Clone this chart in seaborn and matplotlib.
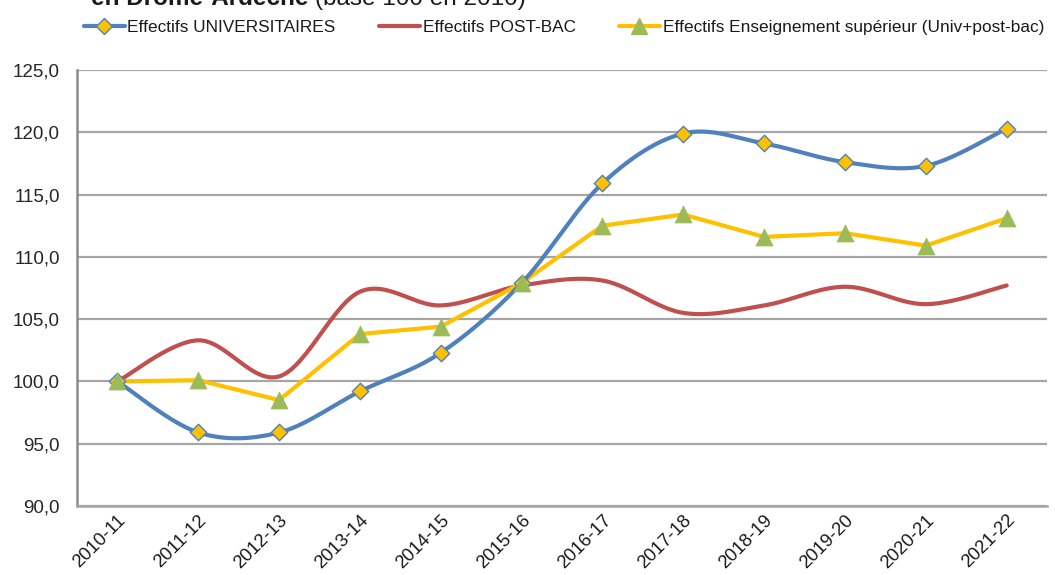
import numpy as np
import pandas as pd
import seaborn as sns
import matplotlib.pyplot as plt
from matplotlib.lines import Line2D
from matplotlib.ticker import FuncFormatter, FixedLocator

sns.set_theme(style="white")
plt.rcParams['font.family'] = ['Liberation Sans', 'DejaVu Sans']

years = ['2010-11', '2011-12', '2012-13', '2013-14', '2014-15', '2015-16',
         '2016-17', '2017-18', '2018-19', '2019-20', '2020-21', '2021-22']
univ = [100.0, 95.9, 95.9, 99.2, 102.3, 107.9, 115.9, 119.9, 119.1, 117.6, 117.3, 120.3]
postbac = [100.0, 103.3, 100.4, 107.2, 106.1, 107.7, 108.1, 105.5, 106.1, 107.6, 106.2, 107.7]
sup = [100.0, 100.1, 98.5, 103.8, 104.4, 107.9, 112.5, 113.4, 111.6, 111.9, 110.9, 113.1]

BLUE = '#4F81BD'
RED = '#C0504D'
YELLOW = '#FFC000'
GREEN = '#9BBB59'
GRID = '#A6A6A6'

df = pd.DataFrame({'x': np.arange(len(years)), 'annee': years,
                   'univ': univ, 'postbac': postbac, 'sup': sup})


def smooth(x, y, n=30):
    # courbe lissée façon Excel (bezier type Catmull-Rom)
    x = np.asarray(x, float)
    y = np.asarray(y, float)
    px = np.concatenate([[x[0]], x, [x[-1]]])
    py = np.concatenate([[y[0]], y, [y[-1]]])
    xs, ys = [], []
    t = np.linspace(0, 1, n)
    for i in range(len(x) - 1):
        p0 = np.array([px[i + 1], py[i + 1]])
        p3 = np.array([px[i + 2], py[i + 2]])
        c1 = p0 + (np.array([px[i + 2], py[i + 2]]) - np.array([px[i], py[i]])) / 6
        c2 = p3 - (np.array([px[i + 3], py[i + 3]]) - np.array([px[i + 1], py[i + 1]])) / 6
        b = ((1 - t) ** 3)[:, None] * p0 + (3 * (1 - t) ** 2 * t)[:, None] * c1 \
            + (3 * (1 - t) * t ** 2)[:, None] * c2 + (t ** 3)[:, None] * p3
        xs.extend(b[:, 0])
        ys.extend(b[:, 1])
    return np.array(xs), np.array(ys)


fig = plt.figure(figsize=(10.55, 5.75), dpi=100)
ax = fig.add_axes([0.073, 0.12, 0.9195, 0.7583])

# lignes lissées
sx, sy = smooth(df.x, df.univ)
ax.plot(sx, sy, color=BLUE, lw=3.0, solid_capstyle='round', zorder=4)
sx, sy = smooth(df.x, df.postbac)
ax.plot(sx, sy, color=RED, lw=3.0, solid_capstyle='round', zorder=3)
sns.lineplot(data=df, x='x', y='sup', color=YELLOW, lw=3.0, ax=ax, zorder=3)

# marqueurs
sns.scatterplot(data=df, x='x', y='univ', marker='D', s=70, color=YELLOW,
                edgecolor=BLUE, linewidth=1.0, ax=ax, zorder=5)
sns.scatterplot(data=df, x='x', y='sup', marker='^', s=150, color=GREEN,
                edgecolor=GREEN, linewidth=0.5, ax=ax, zorder=5)

ax.set_xlim(-0.5, len(years) - 0.5)
ax.set_ylim(90, 125)
ax.set_yticks(np.arange(90, 126, 5))
ax.yaxis.set_major_formatter(FuncFormatter(lambda v, p: f"{v:.1f}".replace('.', ',')))
ax.set_xticks(df.x)
ax.set_xticklabels(years, rotation=45, ha='right', rotation_mode='anchor', fontsize=13.3)
ax.xaxis.set_minor_locator(FixedLocator(np.arange(-0.5, len(years), 1)))
ax.tick_params(axis='x', which='major', length=0, pad=4, labelcolor='#1a1a1a')
ax.tick_params(axis='x', which='minor', length=7, width=1.5, color=GRID, direction='out')
ax.tick_params(axis='y', length=9, width=2, color='#8C8C8C', direction='inout',
               labelsize=13.5, pad=8, labelcolor='#262626')
ax.set_xlabel('')
ax.set_ylabel('')

ax.grid(axis='y', color=GRID, lw=1.6)
ax.set_axisbelow(True)
for s in ['top', 'right']:
    ax.spines[s].set_visible(False)
ax.spines['left'].set_color('#8C8C8C')
ax.spines['left'].set_linewidth(1.8)
ax.spines['bottom'].set_color(GRID)
ax.spines['bottom'].set_linewidth(1.8)

handles = [
    Line2D([], [], color=BLUE, lw=3, marker='D', markersize=8,
           markerfacecolor=YELLOW, markeredgecolor=BLUE),
    Line2D([], [], color=RED, lw=3),
    Line2D([], [], color=YELLOW, lw=3, marker='^', markersize=11,
           markerfacecolor=GREEN, markeredgecolor=GREEN),
]
labels = ['Effectifs UNIVERSITAIRES', 'Effectifs POST-BAC',
          'Effectifs Enseignement supérieur (Univ+post-bac)']
fig.legend(handles, labels, loc='center left', bbox_to_anchor=(0.071, 0.953),
           ncol=3, frameon=False, handlelength=2.4, borderpad=0,
           handletextpad=0.15, columnspacing=2.5, prop={'size': 12.4},
           labelcolor='#1a1a1a')

# titre coupé en haut de l'image
t1 = fig.text(0.086, 0.9915, 'en Drôme-Ardèche', fontsize=17.5, fontweight='bold',
              va='baseline', ha='left', color='#1a1a1a')
fig.canvas.draw()
bb = t1.get_window_extent()
x2 = (bb.x1 + 7) / fig.bbox.width
fig.text(x2, 0.9915, '(base 100 en 2010)', fontsize=17.5,
         va='baseline', ha='left', color='#1a1a1a')

fig.savefig('out.png', dpi=100)
